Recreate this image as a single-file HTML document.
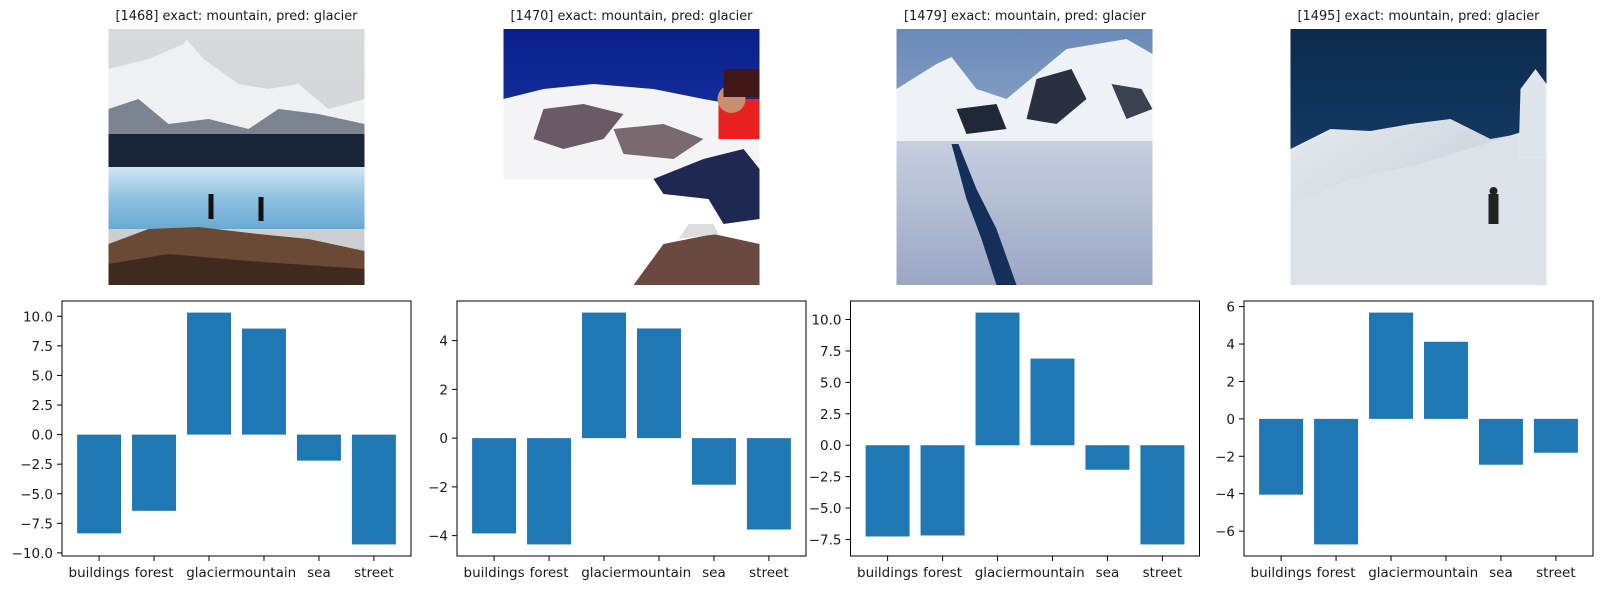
<!DOCTYPE html>
<html><head><meta charset="utf-8">
<style>
html,body{margin:0;padding:0;background:#fff;}
svg{display:block;}
text{font-family:"DejaVu Sans","Liberation Sans",sans-serif;fill:#1a1a1a;}
</style></head>
<body>
<svg id="fig" width="1603" height="590" viewBox="0 0 1603 590" xmlns="http://www.w3.org/2000/svg">
<defs>
<linearGradient id="sky1" x1="0" y1="0" x2="0" y2="1"><stop offset="0" stop-color="#d8dadc"/><stop offset="1" stop-color="#c9ccd0"/></linearGradient>
<linearGradient id="ice1" x1="0" y1="0" x2="0" y2="1"><stop offset="0" stop-color="#cfe6f3"/><stop offset="0.5" stop-color="#8fc1e0"/><stop offset="1" stop-color="#6aa9d2"/></linearGradient>
<linearGradient id="sky2" x1="0" y1="0" x2="0" y2="1"><stop offset="0" stop-color="#0a1f8a"/><stop offset="1" stop-color="#2a4bc0"/></linearGradient>
<linearGradient id="sky3" x1="0" y1="0" x2="0" y2="1"><stop offset="0" stop-color="#6a8ab8"/><stop offset="1" stop-color="#b8c8e0"/></linearGradient>
<linearGradient id="lake3" x1="0" y1="0" x2="0" y2="1"><stop offset="0" stop-color="#c7cfe0"/><stop offset="1" stop-color="#9aa6c4"/></linearGradient>
<linearGradient id="sky4" x1="0" y1="0" x2="0" y2="1"><stop offset="0" stop-color="#0b2a4e"/><stop offset="1" stop-color="#1d4a78"/></linearGradient>
<linearGradient id="snow4" x1="0" y1="0" x2="1" y2="1"><stop offset="0" stop-color="#e6eaef"/><stop offset="1" stop-color="#b9c2cc"/></linearGradient>
</defs>

<!-- Image 1 -->
<g transform="translate(108.5,29)">
<rect width="256" height="256" fill="url(#sky1)"/>
<polygon points="0,40 40,30 75,15 78,10 95,30 130,55 160,60 190,55 220,80 256,70 256,135 0,135" fill="#eef0f2"/>
<polygon points="0,80 30,70 60,95 100,90 140,100 170,80 210,85 256,95 256,140 0,140" fill="#7b8391"/>
<rect y="105" width="256" height="35" fill="#1a2438"/>
<rect y="138" width="256" height="62" fill="url(#ice1)"/>
<polygon points="0,215 40,200 90,198 150,205 200,210 256,222 256,256 0,256" fill="#6b4a35"/>
<polygon points="0,235 60,225 140,232 256,240 256,256 0,256" fill="#3e2a1e"/>
<rect x="100" y="165" width="5" height="25" fill="#111"/>
<rect x="150" y="168" width="5" height="24" fill="#111"/>
</g>
<!-- Image 2 -->
<g transform="translate(503.5,29)">
<rect width="256" height="256" fill="url(#sky2)"/>
<polygon points="0,70 40,60 90,55 150,60 200,70 256,80 256,256 0,256" fill="#f4f4f6"/>
<polygon points="40,80 80,75 120,85 100,110 60,120 30,110" fill="#6a5a66"/>
<polygon points="110,100 160,95 200,110 170,130 120,125" fill="#7a6a70"/>
<rect y="150" width="256" height="106" fill="#ffffff"/>
<polygon points="130,256 160,215 210,205 256,215 256,256" fill="#6a4a40"/>
<rect x="215" y="70" width="41" height="40" fill="#e82020"/>
<polygon points="150,150 200,130 240,120 256,140 256,190 220,195 205,170 160,165" fill="#1e2850"/>
<polygon points="175,210 215,205 210,195 185,195" fill="#ddd"/>
<circle cx="228" cy="70" r="14" fill="#c89070"/>
<rect x="220" y="40" width="36" height="28" fill="#401818"/>
</g>
<!-- Image 3 -->
<g transform="translate(896.5,29)">
<rect width="256" height="256" fill="url(#sky3)"/>
<polygon points="0,60 40,35 55,28 80,60 110,70 140,45 170,20 200,15 230,10 256,25 256,115 0,115" fill="#eef1f6"/>
<polygon points="60,80 100,75 110,100 70,105" fill="#202838"/>
<polygon points="140,50 175,40 190,70 160,95 130,90" fill="#2a3040"/>
<polygon points="215,55 245,60 256,80 230,90" fill="#3a4150"/>
<rect y="112" width="256" height="144" fill="url(#lake3)"/>
<polygon points="55,115 62,115 80,160 100,200 120,256 100,256 85,210 70,170" fill="#14305a"/>
</g>
<!-- Image 4 -->
<g transform="translate(1290.5,29)">
<rect width="256" height="256" fill="url(#sky4)"/>
<polygon points="0,120 40,100 80,102 120,95 160,90 200,110 256,100 256,256 0,256" fill="url(#snow4)"/>
<polygon points="0,175 60,150 130,135 256,95 256,256 0,256" fill="#dde2e8"/>
<polygon points="230,60 245,40 256,55 256,130 228,130" fill="#dfe5ea"/>
<rect x="198" y="165" width="10" height="30" fill="#222"/>
<circle cx="203" cy="162" r="4" fill="#222"/>
</g>

<g id="charts"></g>
</svg>
<script>
// ---- data ----
const categories = ["buildings","forest","glacier","mountain","sea","street"];
const titles = ["[1468] exact: mountain, pred: glacier","[1470] exact: mountain, pred: glacier","[1479] exact: mountain, pred: glacier","[1495] exact: mountain, pred: glacier"];
const values1468 = [-8.35, -6.44, 10.31, 8.96, -2.20, -9.28];
const values1470 = [-3.91, -4.36, 5.15, 4.50, -1.91, -3.75];
const values1479 = [-7.26, -7.18, 10.55, 6.89, -1.95, -7.89];
const values1495 = [-4.05, -6.71, 5.68, 4.12, -2.45, -1.81];
const ticks1468 = [-10, -7.5, -5, -2.5, 0, 2.5, 5, 7.5, 10];
const ticks1470 = [-4, -2, 0, 2, 4];
const ticks1479 = [-7.5, -5, -2.5, 0, 2.5, 5, 7.5, 10];
const ticks1495 = [-6, -4, -2, 0, 2, 4, 6];
const tickDecimals = [1, 0, 1, 0];

const NS = "http://www.w3.org/2000/svg";
const root = document.getElementById("charts");
const panelLefts = [62, 457, 850.5, 1244];
const top_ = 301, bottom_ = 556, W = 349;
const series = [values1468, values1470, values1479, values1495];
const tickSets = [ticks1468, ticks1470, ticks1479, ticks1495];
const ids = ["1468","1470","1479","1495"];

function mk(tag, attrs, parent){ const e=document.createElementNS(NS,tag); for(const k in attrs) e.setAttribute(k,attrs[k]); parent.appendChild(e); return e; }
function fmt(v,d){ const s=Math.abs(v).toFixed(d); return (v<0?"\u2212":"")+s; }

series.forEach((vals, p) => {
  const L = panelLefts[p];
  const g = mk("g", {}, root);
  
  
  // title
  const t = mk("text", {x: L + W/2, y: 20, "text-anchor":"middle", "font-size":"13.5", textLength:"242", lengthAdjust:"spacingAndGlyphs"}, g);
  t.textContent = titles[p];
  
  
  const mn = Math.min(0, ...vals), mx = Math.max(0, ...vals);
  const pad = (mx - mn) * 0.05;
  const y0 = mn - pad, y1 = mx + pad;
  const ys = v => bottom_ - (v - y0) / (y1 - y0) * (bottom_ - top_);
  const xmin = -0.675, xmax = categories.length - 1 + 0.675;
  const xs = i => L + (i - xmin) / (xmax - xmin) * W;
  // bars
  vals.forEach((v, i) => {
    const x = xs(i - 0.4), w = xs(i + 0.4) - x;
    const r = mk("rect", {x: x, y: Math.min(ys(v), ys(0)), width: w, height: Math.abs(ys(v) - ys(0)), fill:"#1f77b4"}, g);
    
    
  });
  // axes frame
  const f = mk("rect", {x: L, y: top_, width: W, height: bottom_ - top_, fill:"none", stroke:"#000", "stroke-width":"1"}, g);
  
  
  // y ticks
  tickSets[p].forEach(tv => {
    const y = ys(tv);
    mk("line", {x1: L - 5, x2: L, y1: y, y2: y, stroke:"#000", "stroke-width":"1"}, g);
    const tl = mk("text", {x: L - 9, y: y + 5, "text-anchor":"end", "font-size":"13.5"}, g);
    tl.textContent = fmt(tv, tickDecimals[p]);
    
    
  });
  // x ticks
  categories.forEach((c, i) => {
    const x = xs(i);
    mk("line", {x1: x, x2: x, y1: bottom_, y2: bottom_ + 5, stroke:"#000", "stroke-width":"1"}, g);
    const tl = mk("text", {x: x, y: 577, "text-anchor":"middle", "font-size":"13.5"}, g);
    tl.textContent = c;
    
    
  });
});
</script>
</body></html>
